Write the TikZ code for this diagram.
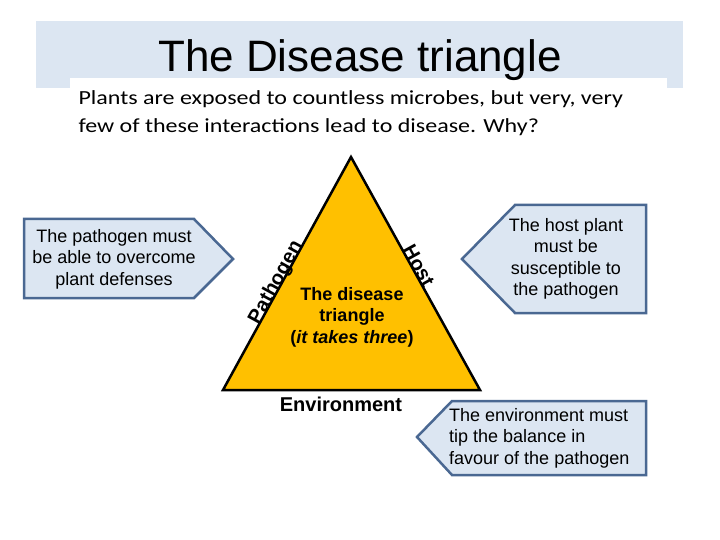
\documentclass[tikz,border=0pt]{standalone}
\usepackage{fontspec}
\setmainfont{Liberation Sans}
\newfontfamily\carlito[FakeStretch=1.2]{Carlito}
\usetikzlibrary{calc}
\definecolor{bandblue}{RGB}{220,230,242}
\definecolor{calloutfill}{RGB}{220,230,242}
\definecolor{calloutline}{RGB}{74,104,146}
\definecolor{trifill}{RGB}{255,192,0}

\begin{document}
\begin{tikzpicture}[x=1pt,y=-1pt,
callout/.style={draw=calloutline,fill=calloutfill,line width=2.5pt,line join=miter},
callouttext/.style={font=\fontsize{18}{21.5}\selectfont,align=center,inner sep=0pt},
sidelabel/.style={font=\fontsize{20}{24}\selectfont\bfseries,sloped,anchor=base,inner sep=1pt}]

\useasboundingbox (0,0) rectangle (720,540);

% Bandeau du titre
\fill[bandblue] (36,21) rectangle (683,88);
\fill[white] (70,78) rectangle (667,90);
\node[font=\fontsize{44}{50}\selectfont,anchor=base]
(titre)
at (360,72)
{The Disease triangle};

% Question
\node[font=\carlito\fontsize{20}{28}\selectfont,anchor=base west]
(q1)
at (75,105)
{Plants are exposed to countless microbes, but very, very};

\node[font=\carlito\fontsize{20}{28}\selectfont,anchor=base west]
(q2)
at (75,133)
{few of these interactions lead to disease. Why?};

% Triangle
\coordinate (T) at (351,157);
\coordinate (BL) at (223,390);
\coordinate (BR) at (480,390);
\draw[line width=2.5pt,fill=trifill,line join=miter] (T) -- (BL) -- (BR) -- cycle;

\path (BL) -- node[sidelabel,pos=0.45] (pathogen) {Pathogen} (T);
\path (T) -- node[sidelabel,pos=0.48] (host) {Host} (BR);

\node[font=\fontsize{18}{21.5}\selectfont\bfseries,align=center]
(milieu)
at (352,317)
{The disease\\triangle\\(\textit{it takes three})};

\node[font=\fontsize{20}{24}\selectfont\bfseries]
(env)
at (341,404)
{Environment};

% Encadre pathogene
\draw[callout] (24,219) -- (194,219) -- (233,259) -- (194,298) -- (24,298) -- cycle;
\node[callouttext]
(pathtxt)
at (114,259)
{The pathogen must\\be able to overcome\\plant defenses};

% Encadre hote
\draw[callout] (462,259) -- (515,205) -- (646,205) -- (646,313) -- (515,313) -- cycle;
\node[callouttext]
(hosttxt)
at (566,259)
{The host plant\\must be\\susceptible to\\the pathogen};

% Encadre environnement
\draw[callout] (417,437) -- (452,401) -- (646,401) -- (646,475) -- (452,475) -- cycle;
\node[callouttext,align=left,anchor=west]
(envtxt)
at (449,438)
{The environment must\\tip the balance in\\favour of the pathogen};

\end{tikzpicture}
\end{document}
